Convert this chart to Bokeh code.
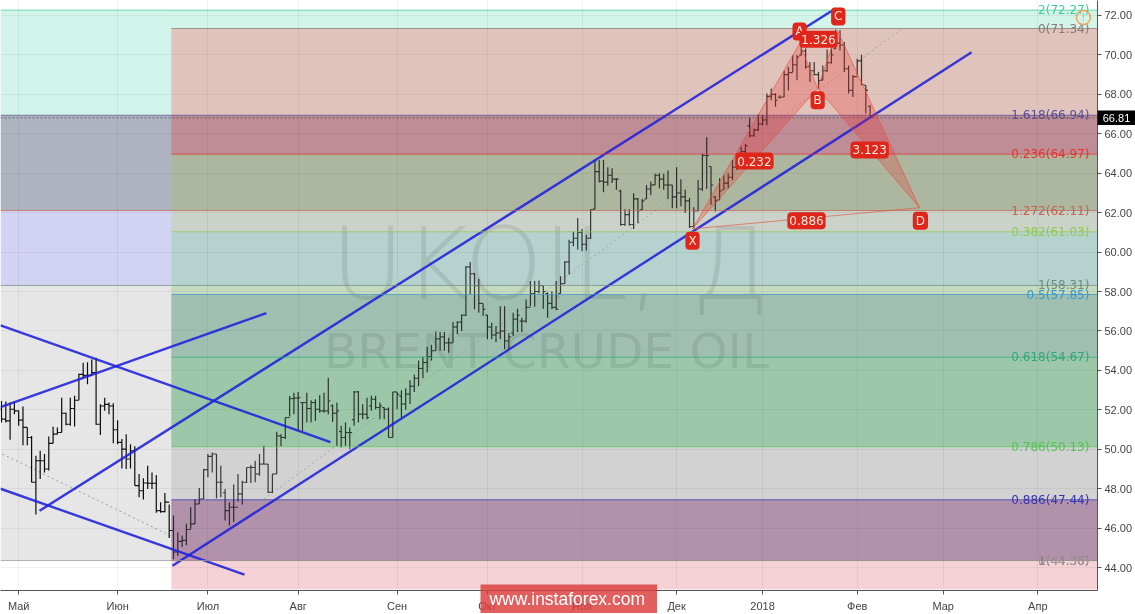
from bokeh.plotting import figure
from bokeh.models import FixedTicker, Range1d, Label, NumeralTickFormatter
from bokeh.core.properties import value
from bokeh.embed import file_html
from bokeh.resources import INLINE

highs = [52.45,52.42,52.37,52.45,51.95,52.17,51.11,50.68,49.67,49.93,
49.76,50.65,51.14,51.11,52.62,51.86,52.62,52.71,53.83,54.39,
54.42,54.56,54.64,52.28,52.62,52.37,52.34,51.48,50.52,50.77,
50.26,50.15,48.75,48.53,49.17,48.83,48.70,47.32,47.79,47.20,
46.64,45.80,45.63,46.22,47.06,47.48,48.04,49.00,49.76,49.84,
49.76,49.17,47.99,47.32,48.21,48.75,48.41,49.08,49.20,49.42,
49.76,50.18,49.25,48.75,50.89,50.77,51.61,52.71,52.87,52.91,
52.37,52.87,52.49,52.54,52.74,52.87,53.63,52.28,52.37,51.19,
51.36,51.11,52.96,52.96,52.28,52.62,52.71,52.71,52.37,52.12,
52.12,52.91,52.91,53.0,53.1,53.5,53.8,54.5,54.7,55.2,
55.3,55.98,55.95,55.95,55.66,56.45,56.5,56.84,59.28,59.5,
58.95,58.65,57.4,56.81,56.42,56.25,57.26,57.26,55.9,56.93,
57.13,56.67,57.6,58.53,58.53,58.56,58.3,57.97,58.02,58.53,
58.78,59.54,60.63,61.05,61.73,61.17,60.88,62.18,64.67,64.67,
64.67,64.3,64.25,63.75,63.16,62.18,62.18,62.99,62.74,62.69,
63.41,63.58,63.97,64.0,63.97,64.14,63.41,64.3,63.7,63.16,
62.74,62.28,63.66,65.0,65.82,64.34,62.82,63.75,63.9,64.0,
64.67,65.0,65.35,65.48,66.83,66.27,67.0,66.95,68.04,68.3,
68.04,67.96,69.2,69.39,69.98,69.98,70.49,70.32,69.64,69.64,
69.14,69.47,70.27,70.32,71.28,71.25,70.65,69.47,68.97,69.81,
70.01,68.46,67.45]
lows = [51.36,51.36,50.48,51.78,51.19,50.21,50.21,48.33,46.69,48.49,
48.83,48.92,50.31,50.77,50.85,51.22,51.19,51.16,52.49,53.58,
53.30,53.75,51.24,50.72,51.95,51.78,50.31,50.26,49.03,49.00,
49.03,48.16,47.57,47.45,47.99,47.99,46.78,46.78,46.81,45.50,
44.42,44.59,45.04,45.13,45.97,46.22,47.23,47.48,48.58,48.83,
47.52,47.57,46.39,46.14,46.31,47.35,47.2,48.29,48.29,48.33,
48.66,49.25,47.79,47.79,48.75,50.15,50.52,51.66,51.78,50.94,
50.94,51.36,51.36,51.44,51.86,51.86,51.78,51.39,50.18,50.09,
50.18,50.01,51.19,51.36,51.53,51.53,51.95,52.03,51.53,51.53,
50.6,50.6,52.03,51.6,52.0,52.3,52.9,53.2,53.6,53.9,
54.5,55.0,55.0,55.0,54.9,55.41,55.83,56.0,56.76,57.85,
57.1,56.93,56.76,55.58,55.58,55.44,55.58,55.07,55.07,55.75,
55.95,55.95,56.42,57.26,57.23,57.9,57.13,56.67,57.1,57.06,
57.9,58.39,58.86,60.3,60.13,60.04,60.08,60.67,62.18,63.53,
63.04,63.36,63.5,63.16,61.34,61.34,61.34,61.17,61.47,62.15,
62.69,62.9,63.41,63.24,63.16,62.69,62.23,62.23,62.32,61.98,
61.22,61.22,62.06,63.1,63.2,62.4,62.06,62.65,63.16,63.24,
63.66,64.17,64.67,65.0,65.82,65.85,66.15,66.44,66.44,67.7,
67.37,67.79,67.87,68.2,69.14,68.72,69.98,69.3,68.63,68.97,
68.3,68.72,69.14,69.56,70.32,70.23,69.14,68.04,67.87,68.97,
68.46,67.03,66.86]
closes = [51.53,51.44,52.03,51.95,51.48,51.11,50.60,48.33,49.42,49.42,
49.0,50.30,50.77,50.85,51.83,51.27,52.07,52.49,53.80,53.75,
53.75,53.89,51.27,52.20,52.28,52.20,50.99,50.35,50.01,49.51,
49.93,48.16,47.90,48.29,48.28,48.28,46.89,46.84,47.32,45.88,
44.79,45.33,45.38,45.93,46.22,47.23,47.48,48.97,49.64,49.76,
48.33,48.33,46.89,47.06,47.06,47.74,48.33,49.08,49.08,48.75,
49.25,49.25,47.82,48.75,50.68,50.60,51.61,52.57,52.6,52.62,
52.37,52.07,52.37,52.03,51.95,51.95,52.45,51.83,51.95,50.6,
50.85,50.85,52.91,51.78,51.78,51.61,52.54,52.12,52.20,52.03,
50.6,52.91,52.79,52.3,52.8,53.2,53.6,54.1,54.4,54.7,
55.0,55.6,55.7,55.4,55.4,56.2,56.45,56.8,59.25,58.9,
58.3,57.4,57.1,56.2,55.8,55.9,56.0,55.5,55.7,56.6,
56.8,56.5,57.2,57.9,58.0,58.3,58.0,57.4,57.2,57.1,
58.4,59.5,60.5,60.7,61.0,60.4,60.7,62.15,64.08,63.6,
63.55,63.9,63.7,63.7,61.4,61.9,61.4,62.7,62.1,62.6,
63.2,63.4,63.9,63.7,63.4,63.4,62.8,63.0,62.8,62.6,
61.3,62.1,63.2,64.9,64.9,63.4,62.6,63.1,63.5,63.8,
64.3,64.8,65.1,65.4,65.9,66.2,66.5,66.7,67.9,68.0,
67.7,67.85,69.0,69.1,69.5,69.9,70.2,69.4,69.2,69.0,
68.7,69.2,69.6,70.0,70.6,70.5,69.3,68.2,68.9,69.7,
68.5,68.2,66.9]
opens = [52.03,51.53,51.44,52.03,51.95,51.48,51.11,50.60,48.33,49.42,
49.42,49.0,50.30,50.77,50.85,51.83,51.27,52.07,52.49,53.80,
53.75,53.75,53.89,51.27,52.20,52.28,52.20,50.99,50.35,50.01,
49.51,49.93,48.16,47.90,48.29,48.28,48.28,46.89,46.84,47.32,
45.88,44.79,45.33,45.38,45.93,46.22,47.23,47.48,48.97,49.64,
49.76,48.33,47.8,46.89,47.06,47.06,47.74,48.33,49.08,49.08,
48.75,49.25,49.25,47.82,48.75,50.68,50.60,51.61,52.57,52.6,
52.37,52.37,52.07,52.37,52.03,51.95,51.95,52.2,51.83,50.9,
50.6,50.85,51.5,52.91,51.78,51.78,52.2,52.54,52.12,52.12,
52.03,50.6,52.91,52.7,52.3,52.8,53.2,53.6,54.1,54.4,
54.7,55.0,55.6,55.7,55.4,55.4,56.2,56.45,56.8,59.25,
58.9,58.3,57.4,56.81,56.2,55.8,55.9,56.0,55.5,55.9,
56.6,56.5,56.5,57.2,57.9,58.0,58.3,57.9,57.4,57.2,
57.9,58.4,59.5,60.5,60.7,61.0,60.4,60.7,62.18,64.08,
63.6,63.55,63.9,63.7,63.1,61.4,61.9,61.4,62.7,62.15,
62.69,63.2,63.41,63.9,63.7,63.4,63.4,62.8,63.0,62.8,
62.6,61.3,62.1,63.2,64.9,64.34,62.8,62.65,63.16,63.5,
63.8,64.3,64.8,65.1,66.4,65.9,66.2,66.5,66.7,67.9,
68.0,67.85,67.87,69.0,69.1,69.5,69.98,70.2,69.4,69.2,
69.0,68.72,69.2,69.6,70.32,70.6,70.5,69.3,68.2,68.9,
69.7,68.46,67.4]
bars = list(range(1, len(highs) + 1))

month_ticks = [5, 28, 49, 70, 93, 114, 136, 158, 178, 200, 220, 242]
month_labels = ["Май", "Июн", "Июл", "Авг", "Сен", "Окт", "Ноя", "Дек", "2018", "Фев", "Мар", "Апр"]
price_ticks = [44, 46, 48, 50, 52, 54, 56, 58, 60, 62, 64, 66, 68, 70, 72]

X0, X1, Y0, Y1 = 0.77, 255.88, 42.84, 72.76
START_B = 40.5

zones_a = [(66.94, 72.27, "#d3f4ea"), (62.11, 66.94, "#adb4bf"), (58.31, 62.11, "#d2d2f2"), (44.36, 58.31, "#e6e6e6")]
zones_b = [(71.34, 72.27, "#d3f4ea"), (66.94, 71.34, "#e0c4bb"), (64.97, 66.94, "#bf8e97"), (62.11, 64.97, "#adb8a0"),
           (61.03, 62.11, "#cbd3c9"), (58.31, 61.03, "#b6d2cf"), (57.85, 58.31, "#c6dcc0"), (54.67, 57.85, "#9fc0b0"),
           (50.13, 54.67, "#9dc8aa"), (47.44, 50.13, "#d2d2d2"), (44.36, 47.44, "#b293ab"), (42.9, 44.36, "#f4d3d5")]
levels = [("2(72.27)", 72.27, "#3fd09a", X0), ("0(71.34)", 71.34, "#8a7a78", START_B), ("1.618(66.94)", 66.94, "#5b4b95", X0),
          ("0.236(64.97)", 64.97, "#e83030", START_B), ("1.272(62.11)", 62.11, "#c0644f", X0), ("0.382(61.03)", 61.03, "#8fcb50", START_B),
          ("1(58.31)", 58.31, "#6f8b80", X0), ("0.5(57.85)", 57.85, "#3b97c8", START_B), ("0.618(54.67)", 54.67, "#30a878", START_B),
          ("0.786(50.13)", 50.13, "#55c455", START_B), ("0.886(47.44)", 47.44, "#3535b0", START_B),
          ("1(44.36)", 44.36, "#8a6070", START_B), ("0(44.36)", 44.36, "#999999", X0)]

channel_lines = [((0.77, 77.5), (56.28, 50.37)), ((0.77, 57.5), (48.0, 43.65)), ((0.77, 62.6), (52.14, 56.91)),
                 ((9.84, 194.95), (46.88, 72.35)), ((40.77, 226.6), (44.1, 70.13))]
dotted_lines = [((1.23, 51.2), (49.76, 44.46)), ((44.26, 210.5), (44.61, 71.34))]

pat_x = {"X": 161.7, "A": 186.6, "B": 190.8, "C": 195.4, "D": 214.5}
pat_y = {"X": 61.18, "A": 70.58, "B": 68.31, "C": 71.24, "D": 62.25}
pat_labels = [("A", 186.6, 71.19), ("B", 190.8, 67.70), ("C", 195.6, 71.95), ("D", 214.7, 61.59), ("X", 161.7, 60.58),
              ("1.326", 191.0, 70.79), ("0.232", 176.1, 64.62), ("3.123", 202.9, 65.18), ("0.886", 188.2, 61.59)]
last_price = 66.81

p = figure(width=1135, height=614, output_backend="svg", toolbar_location=None,
           x_range=Range1d(X0, X1), y_range=Range1d(Y0, Y1),
           min_border_left=0, min_border_top=0, min_border_right=38, min_border_bottom=22,
           y_axis_location="right", background_fill_color="#ffffff", border_fill_color="#ffffff")
p.styles = {"position": "fixed", "left": "0px", "top": "0px"}
p.outline_line_color = None

for ax in (p.xaxis[0], p.yaxis[0]):
    ax.axis_line_color = "#555555"
    ax.major_tick_line_color = "#555555"
    ax.major_tick_out = 4
    ax.major_tick_in = 0
    ax.minor_tick_line_color = None
    ax.major_label_text_font = "Liberation Sans"
    ax.major_label_text_font_size = "11px"
    ax.major_label_text_color = "#444444"
p.xaxis[0].ticker = FixedTicker(ticks=month_ticks)
p.xaxis[0].major_label_overrides = dict(zip(month_ticks, month_labels))
p.xaxis[0].major_label_standoff = 5
p.yaxis[0].ticker = FixedTicker(ticks=price_ticks)
p.yaxis[0].formatter = NumeralTickFormatter(format="0.00")
p.yaxis[0].major_label_standoff = 3
for g in (p.xgrid[0], p.ygrid[0]):
    g.level = "overlay"
    g.grid_line_color = "#000000"
    g.grid_line_alpha = 0.05

p.quad(left=[X0] * len(zones_a), right=[X1] * len(zones_a), bottom=[z[0] for z in zones_a], top=[z[1] for z in zones_a],
       fill_color=[z[2] for z in zones_a], line_color=None)
p.quad(left=[START_B] * len(zones_b), right=[X1] * len(zones_b), bottom=[z[0] for z in zones_b], top=[z[1] for z in zones_b],
       fill_color=[z[2] for z in zones_b], line_color=None)

p.text(x=[77.6], y=[59.35], text=["UKOIL, Д"], text_font=value("DejaVu Sans"), text_font_size="100px",
       text_color="#2a2a2a", text_alpha=0.14, text_baseline="alphabetic")
p.text(x=[76.0], y=[54.98], text=["BRENT CRUDE OIL"], text_font=value("DejaVu Sans"), text_font_size="48.5px",
       text_color="#2a2a2a", text_alpha=0.13, text_baseline="alphabetic")

for xs, ys in dotted_lines:
    p.line(list(xs), list(ys), line_color="#9a9a9a", line_width=1, line_dash="2 3")

BAR_COLOR = "#0c0c0c"
p.segment(x0=bars, y0=lows, x1=bars, y1=highs, line_color=BAR_COLOR, line_width=1.2)
p.segment(x0=[b - 0.5 for b in bars], y0=opens, x1=bars, y1=opens, line_color=BAR_COLOR, line_width=1.1)
p.segment(x0=bars, y0=closes, x1=[b + 0.5 for b in bars], y1=closes, line_color=BAR_COLOR, line_width=1.1)

# the translucent veil of the right hand grid tints what lies below it
p.quad(left=[START_B] * len(zones_b), right=[X1] * len(zones_b), bottom=[z[0] for z in zones_b], top=[z[1] for z in zones_b],
       fill_color=[z[2] for z in zones_b], fill_alpha=0.22, line_color=None)

for xs, ys in channel_lines:
    p.line(list(xs), list(ys), line_color="#1f20dd", line_width=2.4, line_alpha=0.88)

for name, lv, col, start in levels:
    p.line([start, X1], [lv, lv], line_color=col, line_width=1, line_alpha=0.75)
    p.text(x=[254.0], y=[lv], text=[name], text_font=value("DejaVu Sans"), text_font_size="12px", text_color=col,
           text_align="right", text_baseline="middle")
p.line([X0, X1], [last_price, last_price], line_color="#555555", line_width=1, line_dash="2 2", line_alpha=0.8)

for tri in ("XAB", "BCD"):
    p.patch([pat_x[c] for c in tri], [pat_y[c] for c in tri], fill_color="#f02828", fill_alpha=0.25,
            line_color="#e8503f", line_width=0.8, line_alpha=0.8)
p.line([pat_x["X"], pat_x["D"]], [pat_y["X"], pat_y["D"]], line_color="#e8503f", line_width=0.8, line_alpha=0.8)

for txt, lx, ly in pat_labels:
    pad = (3, 2) if len(txt) == 1 else (2, 4)
    p.add_layout(Label(x=lx, y=ly, text=txt, text_font="DejaVu Sans", text_font_size="12px", text_color="#f7ead9",
                       text_align="center", text_baseline="middle", background_fill_color="#e0261a",
                       background_fill_alpha=1, border_radius=4, padding=pad))

p.scatter([252.6], [71.9], marker="circle", size=14, fill_color=None, line_color="#f2a35e", line_width=1.5)
p.text(x=[252.6], y=[71.9], text=["!"], text_font=value("DejaVu Sans"), text_font_size="11px", text_color="#f2a35e",
       text_align="center", text_baseline="middle")


def overlay(left, top, width, height, fill, alpha):
    """A small figure laid over the page for the parts that sit outside the main frame."""
    f = figure(width=width, height=height, output_backend="svg", toolbar_location=None,
               x_range=Range1d(0, 1), y_range=Range1d(0, 1), x_axis_location=None, y_axis_location=None,
               min_border=0, outline_line_color=None, background_fill_color=fill, background_fill_alpha=alpha,
               border_fill_alpha=0, sizing_mode="fixed")
    f.grid.visible = False
    f.styles = {"position": "fixed", "left": f"{left}px", "top": f"{top}px",
                "width": f"{width}px", "height": f"{height}px"}
    return f


strip = overlay(0, 611, 1135, 3, "#e9e9e9", 1)
flag = overlay(1097, 110, 38, 15, "#000000", 1)
flag.text(x=[0.5], y=[0.5], text=[f"{last_price:.2f}"], text_font=value("Liberation Sans"), text_font_size="11px",
          text_color="#ffffff", text_align="center", text_baseline="middle")
banner = overlay(480, 584, 177, 29, "#dc3c3c", 0.82)
banner.text(x=[0.49], y=[0.5], text=["www.instaforex.com"], text_font=value("Liberation Sans"), text_font_size="17.5px",
            text_color="#ffffff", text_align="center", text_baseline="middle")

open("out.html", "w").write(file_html([p, strip, flag, banner], INLINE))
